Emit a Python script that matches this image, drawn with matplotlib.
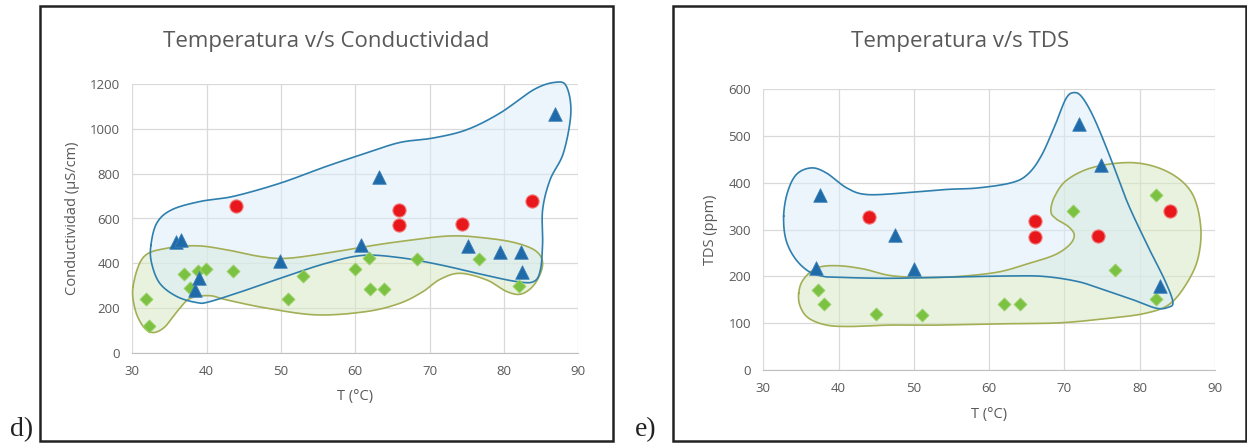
#!/usr/bin/env python3
"""
Temperatura v/s Conductividad y Temperatura v/s TDS, con las zonas
que agrupan cada tipo de muestra.
"""

import numpy as np
import matplotlib
matplotlib.use("Agg")
import matplotlib.pyplot as plt
from matplotlib.patches import Rectangle

plt.rcParams["font.family"] = ["Open Sans", "DejaVu Sans"]

# --- panel d) conductividad ---
cond_blue_T = [35.9, 36.5, 38.5, 39.0, 49.9, 60.8, 63.2, 75.1, 79.4, 82.3, 82.4, 86.9]
cond_blue_C = [497, 502, 281, 333, 412, 482, 785, 479, 452, 448, 363, 1069]
cond_red_T = [43.9, 65.9, 65.9, 74.4, 83.8]
cond_red_C = [657, 639, 569, 575, 679]
cond_green_T = [31.8, 32.3, 37.0, 37.8, 38.9, 39.9, 43.5, 51.0, 52.9, 60.0, 61.8, 62.0,
                63.9, 68.3, 76.7, 82.0]
cond_green_C = [240, 119, 352, 288, 365, 375, 364, 239, 343, 375, 422, 285,
                285, 419, 421, 298]

# zonas (contornos dibujados a mano en el original)
cond_blue_zone_T = [32.5, 33.3, 35.3, 39.1, 43.6, 49.9, 56.1, 61.5, 66.0, 70.5, 75.0, 79.5,
                    84.0, 86.9, 88.4, 89.0, 88.0, 86.2, 85.2, 85.2, 84.9, 84.0, 81.7, 77.3,
                    71.4, 66.0, 61.0, 56.1, 50.8, 45.4, 40.4, 38.7, 36.0, 33.7, 32.6]
cond_blue_zone_C = [480, 580, 639, 676, 699, 758, 833, 893, 940, 960, 997, 1072,
                    1176, 1209, 1191, 1072, 893, 773, 639, 490, 370, 318, 318, 348,
                    393, 425, 435, 400, 343, 281, 228, 224, 251, 310, 400]
cond_green_zone_T = [30.1, 31.5, 34.6, 38.7, 42.7, 47.2, 50.8, 56.1, 61.5, 66.0, 72.7, 77.7,
                     81.7, 84.4, 85.2, 84.2, 82.4, 80.4, 77.7, 74.1, 71.4, 69.1, 66.0, 61.5,
                     54.8, 48.1, 42.7, 40.4, 37.8, 36.2, 34.4, 32.8, 31.5, 30.4]
cond_green_zone_C = [296, 427, 467, 478, 460, 430, 422, 445, 475, 497, 522, 512,
                     490, 452, 393, 310, 263, 273, 325, 355, 328, 273, 221, 184,
                     169, 199, 236, 255, 243, 191, 116, 90, 116, 191]

# --- panel e) TDS ---
tds_blue_T = [37.5, 37.0, 47.5, 50.0, 71.9, 74.8, 82.7]
tds_blue_V = [373, 218, 289, 216, 525, 439, 179]
tds_red_T = [44.0, 66.1, 66.1, 74.5, 84.0]
tds_red_V = [326, 318, 284, 286, 339]
tds_green_T = [37.2, 38.0, 45.0, 51.1, 62.0, 64.1, 71.2, 76.7, 82.2, 82.1]
tds_green_V = [171, 141, 119, 118, 141, 141, 339, 213, 375, 151]

tds_blue_zone_T = [32.7, 33.2, 34.4, 36.4, 38.4, 41.1, 43.8, 49.1, 54.4, 58.4, 62.9, 65.1,
                   66.9, 68.7, 70.2, 71.3, 72.4, 74.0, 76.2, 78.4, 81.1, 83.3, 84.4, 83.8,
                   82.2, 79.3, 75.3, 71.8, 67.3, 62.9, 55.8, 46.9, 40.2, 38.0, 36.0, 34.2, 33.0]
tds_blue_zone_V = [329, 379, 418, 432, 421, 389, 375, 379, 386, 389, 400, 418,
                   457, 521, 580, 593, 582, 536, 450, 357, 264, 193, 146, 134,
                   132, 149, 171, 189, 200, 201, 199, 196, 198, 200, 211, 239, 279]
tds_green_zone_T = [34.7, 35.3, 37.1, 39.8, 43.3, 47.3, 53.6, 60.7, 65.1, 68.7, 70.7, 71.3,
                    70.5, 68.9, 68.2, 68.7, 70.4, 74.0, 79.3, 83.8, 86.9, 88.1, 87.7, 86.0,
                    83.8, 80.7, 76.2, 69.6, 62.9, 53.6, 46.9, 41.6, 38.4, 36.0, 34.9]
tds_green_zone_V = [164, 193, 218, 223, 216, 201, 198, 208, 227, 246, 268, 289,
                    307, 323, 339, 371, 407, 434, 443, 423, 379, 307, 236, 179,
                    139, 121, 111, 101, 99, 96, 96, 93, 96, 111, 136]

BLUE = "#1f6aa8"
RED = "#e8171b"
GREEN = "#7cc242"
TXT = "#595959"

W, H = 1247, 448


def smooth_closed(xs, ys, n=24):
    # periodic Catmull-Rom through the outline points
    P = np.column_stack([xs, ys]).astype(float)
    m = len(P)
    t = np.linspace(0, 1, n, endpoint=False)[:, None]
    segs = []
    for i in range(m):
        p0, p1, p2, p3 = P[(i - 1) % m], P[i], P[(i + 1) % m], P[(i + 2) % m]
        segs.append(0.5 * (2 * p1 + (-p0 + p2) * t
                           + (2 * p0 - 5 * p1 + 4 * p2 - p3) * t ** 2
                           + (-p0 + 3 * p1 - 3 * p2 + p3) * t ** 3))
    pts = np.vstack(segs + [segs[0][:1]])
    return pts[:, 0], pts[:, 1]


def draw_zone(ax, xs, ys, fill, edge):
    sx, sy = smooth_closed(xs, ys)
    ax.fill(sx, sy, color=fill, alpha=0.55, lw=0, zorder=2, clip_on=False)
    ax.plot(sx, sy, color=edge, lw=1.2, zorder=3, clip_on=False)


def style_axes(ax, ymax, ystep, ylabel):
    ax.set_xlim(30, 90)
    ax.set_ylim(0, ymax)
    ax.set_xticks(range(30, 91, 10))
    ax.set_yticks(range(0, ymax + 1, ystep))
    ax.grid(True, color="#d9d9d9", lw=0.9, zorder=0)
    ax.set_axisbelow(True)
    for s in ["top", "right", "left"]:
        ax.spines[s].set_visible(False)
    ax.spines["bottom"].set_color("#bfbfbf")
    ax.tick_params(length=0, labelsize=9.5, labelcolor=TXT, pad=9)
    ax.set_xlabel("T (°C)", fontsize=10.5, color=TXT, labelpad=8)
    ax.set_ylabel(ylabel, fontsize=10.5, color=TXT, labelpad=7)


def draw_points(ax, bt, bv, rt, rv, gt, gv):
    ax.scatter(gt, gv, marker="D", s=44, color=GREEN, edgecolor="#9fd36d", lw=0.6, zorder=4)
    ax.scatter(bt, bv, marker="^", s=95, color=BLUE, edgecolor="#3b80b8", lw=0.6, zorder=5)
    ax.scatter(rt, rv, marker="o", s=90, color=RED, edgecolor="#f27a7a", lw=0.8, zorder=6)


fig = plt.figure(figsize=(W / 100, H / 100), dpi=100)

# panel frames
for x0, x1 in [(40, 613), (673, 1246)]:
    fig.patches.append(Rectangle((x0 / W, 1 - 441 / H), (x1 - x0) / W, 435 / H,
                                 transform=fig.transFigure, fill=False,
                                 lw=1.8, ec="#222222"))

ax1 = fig.add_axes([132.3 / W, 1 - 352.7 / H, 446 / W, 268.4 / H])
draw_zone(ax1, cond_green_zone_T, cond_green_zone_C, "#d6e9c3", "#a3ae55")
draw_zone(ax1, cond_blue_zone_T, cond_blue_zone_C, "#dcedf8", "#2f7fae")
draw_points(ax1, cond_blue_T, cond_blue_C, cond_red_T, cond_red_C, cond_green_T, cond_green_C)
style_axes(ax1, 1200, 200, "Conductividad (µS/cm)")

ax2 = fig.add_axes([763.3 / W, 1 - 370 / H, 451.7 / W, 280.7 / H])
draw_zone(ax2, tds_green_zone_T, tds_green_zone_V, "#d6e9c3", "#a3ae55")
draw_zone(ax2, tds_blue_zone_T, tds_blue_zone_V, "#dcedf8", "#2f7fae")
draw_points(ax2, tds_blue_T, tds_blue_V, tds_red_T, tds_red_V, tds_green_T, tds_green_V)
style_axes(ax2, 600, 100, "TDS (ppm)")

fig.text(326 / W, 1 - 42 / H, "Temperatura v/s Conductividad", ha="center", va="center",
         fontsize=16, color=TXT)
fig.text(960 / W, 1 - 42 / H, "Temperatura v/s TDS", ha="center", va="center",
         fontsize=16, color=TXT)

fig.text(22 / W, 1 - 430 / H, "d)", ha="center", va="center", fontsize=20,
         family="Liberation Serif", color="#222222")
fig.text(646 / W, 1 - 430 / H, "e)", ha="center", va="center", fontsize=20,
         family="Liberation Serif", color="#222222")

fig.savefig("out.png", dpi=100, facecolor="white")
